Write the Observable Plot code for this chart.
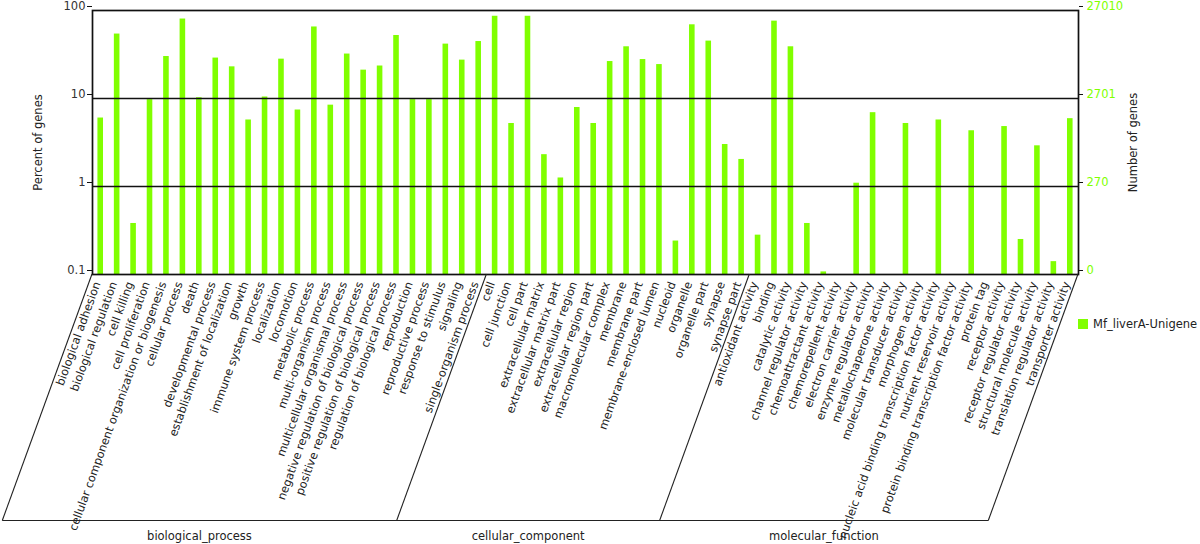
<!DOCTYPE html>
<html><head><meta charset="utf-8">
<script src="https://cdn.jsdelivr.net/npm/d3@7"></script>
<script src="https://cdn.jsdelivr.net/npm/@observablehq/plot@0.6"></script>
<style>
body{margin:0;background:#fff;}
#wrap{position:relative;width:1200px;height:544px;font-family:"DejaVu Sans",sans-serif;}
#legend{position:absolute;left:1078px;top:318px;font-size:11.5px;color:#222;display:flex;align-items:center;white-space:nowrap;line-height:12px}
#legend .sw{display:inline-block;width:10px;height:10px;background:#80ff00;margin-right:5px}
</style></head><body><div id="wrap"></div>
<script>
const groupNames = ["biological_process", "cellular_component", "molecular_function"];
const bpTerms = ["biological adhesion","biological regulation","cell killing","cell proliferation","cellular component organization or biogenesis","cellular process","death","developmental process","establishment of localization","growth","immune system process","localization","locomotion","metabolic process","multi-organism process","multicellular organismal process","negative regulation of biological process","positive regulation of biological process","regulation of biological process","reproduction","reproductive process","response to stimulus","signaling","single-organism process"];
const bpValues = [6.0,54,0.38,9.7,30,80,10.2,28.8,22.9,5.7,10.4,28,7.4,65,8.4,32,21,23.4,52,9.7,9.7,41.5,27.3,44.4];
const ccTerms = ["cell","cell junction","cell part","extracellular matrix","extracellular matrix part","extracellular region","extracellular region part","macromolecular complex","membrane","membrane part","membrane-enclosed lumen","nucleoid","organelle","organelle part","synapse","synapse part"];
const ccValues = [86,5.2,86,2.3,1.25,7.9,5.2,26.3,38.7,27.7,24.3,0.24,68.8,44.9,3.0,2.03];
const mfTerms = ["antioxidant activity","binding","catalytic activity","channel regulator activity","chemoattractant activity","chemorepellent activity","electron carrier activity","enzyme regulator activity","metallochaperone activity","molecular transducer activity","morphogen activity","nucleic acid binding transcription factor activity","nutrient reservoir activity","protein binding transcription factor activity","protein tag","receptor activity","receptor regulator activity","structural molecule activity","translation regulator activity","transporter activity"];
const mfValues = [0.28,75.7,38.7,0.38,0.107,0,1.09,6.9,0,5.2,0,5.7,0,4.3,0,4.8,0.25,2.9,0.14,5.9];
const percentTicks = [0.1, 1, 10, 100];
const geneCountLabels = ["0", "270", "2701", "27010"];
const seriesName = "Mf_liverA-Unigene";

const groupTerms = [bpTerms, ccTerms, mfTerms];
const groupValues = [bpValues, ccValues, mfValues];
const data = [];
groupNames.forEach((g, gi) => groupTerms[gi].forEach((t, i) => data.push({group: g, term: t, value: groupValues[gi][i]})));
const allTerms = data.map(d => d.term);
const green = "#80ff00";

const chart = Plot.plot({
  width: 1200, height: 544,
  marginLeft: 92, marginRight: 122, marginTop: 10, marginBottom: 270,
  style: {fontFamily: "DejaVu Sans, sans-serif", fontSize: "11px", color: "#222", background: "#fff", overflow: "visible"},
  x: {type: "band", domain: allTerms, paddingInner: 0.66, paddingOuter: 0.33, round: false, axis: null},
  y: {type: "log", domain: [0.1, 100], axis: null},
  marks: [
    Plot.barY(data.filter(d => d.value > 0), {x: "term", y1: 0.1, y2: "value", fill: green}),
    Plot.ruleY([1, 10], {stroke: "#111", strokeWidth: 1.7}),
    Plot.frame({stroke: "#111", strokeWidth: 1.7}),
    Plot.axisY(percentTicks, {anchor: "left", label: null, tickSize: 5, tickPadding: 2, dy: -4, fontSize: 11.5, color: "#333", stroke: "#111", tickFormat: d => String(d)}),
    Plot.axisY(percentTicks, {anchor: "right", label: null, tickSize: 4, tickPadding: 4, dy: -4, fontSize: 11.5, color: green, stroke: "#111", tickFormat: d => geneCountLabels[percentTicks.indexOf(d)]}),
    Plot.text(["Percent of genes"], {frameAnchor: "left", dx: -54, rotate: -90, textAnchor: "middle", fontSize: 11.5, text: d => d, fill: "#222"}),
    Plot.text(["Number of genes"], {frameAnchor: "right", dx: 55, rotate: -90, textAnchor: "middle", fontSize: 11.5, text: d => d, fill: "#222"}),
    Plot.text(data, {x: "term", frameAnchor: "bottom", dy: 9, rotate: -70, textAnchor: "end", fontSize: 11.4, text: "term", fill: "#222"})
  ]
});
document.getElementById("wrap").appendChild(chart);

// group separators, drawn with the plot's own x/y scales
const sx = chart.scale("x"), sy = chart.scale("y");
const step = sx.apply(allTerms[1]) - sx.apply(allTerms[0]);
const bw = sx.bandwidth;
const yTop = sy.apply(0.1);
const drop = 246.5, slantDx = drop / Math.tan(70 * Math.PI / 180);
const yBot = yTop + drop;
const bounds = [];
groupTerms.forEach(ts => { bounds.push(sx.apply(ts[0]) + bw / 2 - step / 2); });
bounds.push(sx.apply(allTerms[allTerms.length - 1]) + bw / 2 + step / 2);
const g = d3.select(chart).append("g").attr("stroke", "#222").attr("stroke-width", 1.1).attr("fill", "none");
bounds.forEach(b => g.append("line").attr("x1", b).attr("y1", yTop).attr("x2", b - slantDx).attr("y2", yBot));
g.append("line").attr("x1", bounds[0] - slantDx).attr("y1", yBot).attr("x2", bounds[bounds.length - 1] - slantDx).attr("y2", yBot);
const gt = d3.select(chart).append("g").attr("font-size", 11.5).attr("fill", "#222").attr("text-anchor", "middle");
groupNames.forEach((name, i) => {
  const cx = (bounds[i] + bounds[i + 1]) / 2 - slantDx;
  gt.append("text").attr("x", cx).attr("y", yBot + 16).attr("dy", "0.32em").text(name);
});

const lg = document.createElement("div");
lg.id = "legend";
lg.innerHTML = '<span class="sw"></span><span></span>';
lg.lastChild.textContent = seriesName;
document.getElementById("wrap").appendChild(lg);
</script>
</body></html>
